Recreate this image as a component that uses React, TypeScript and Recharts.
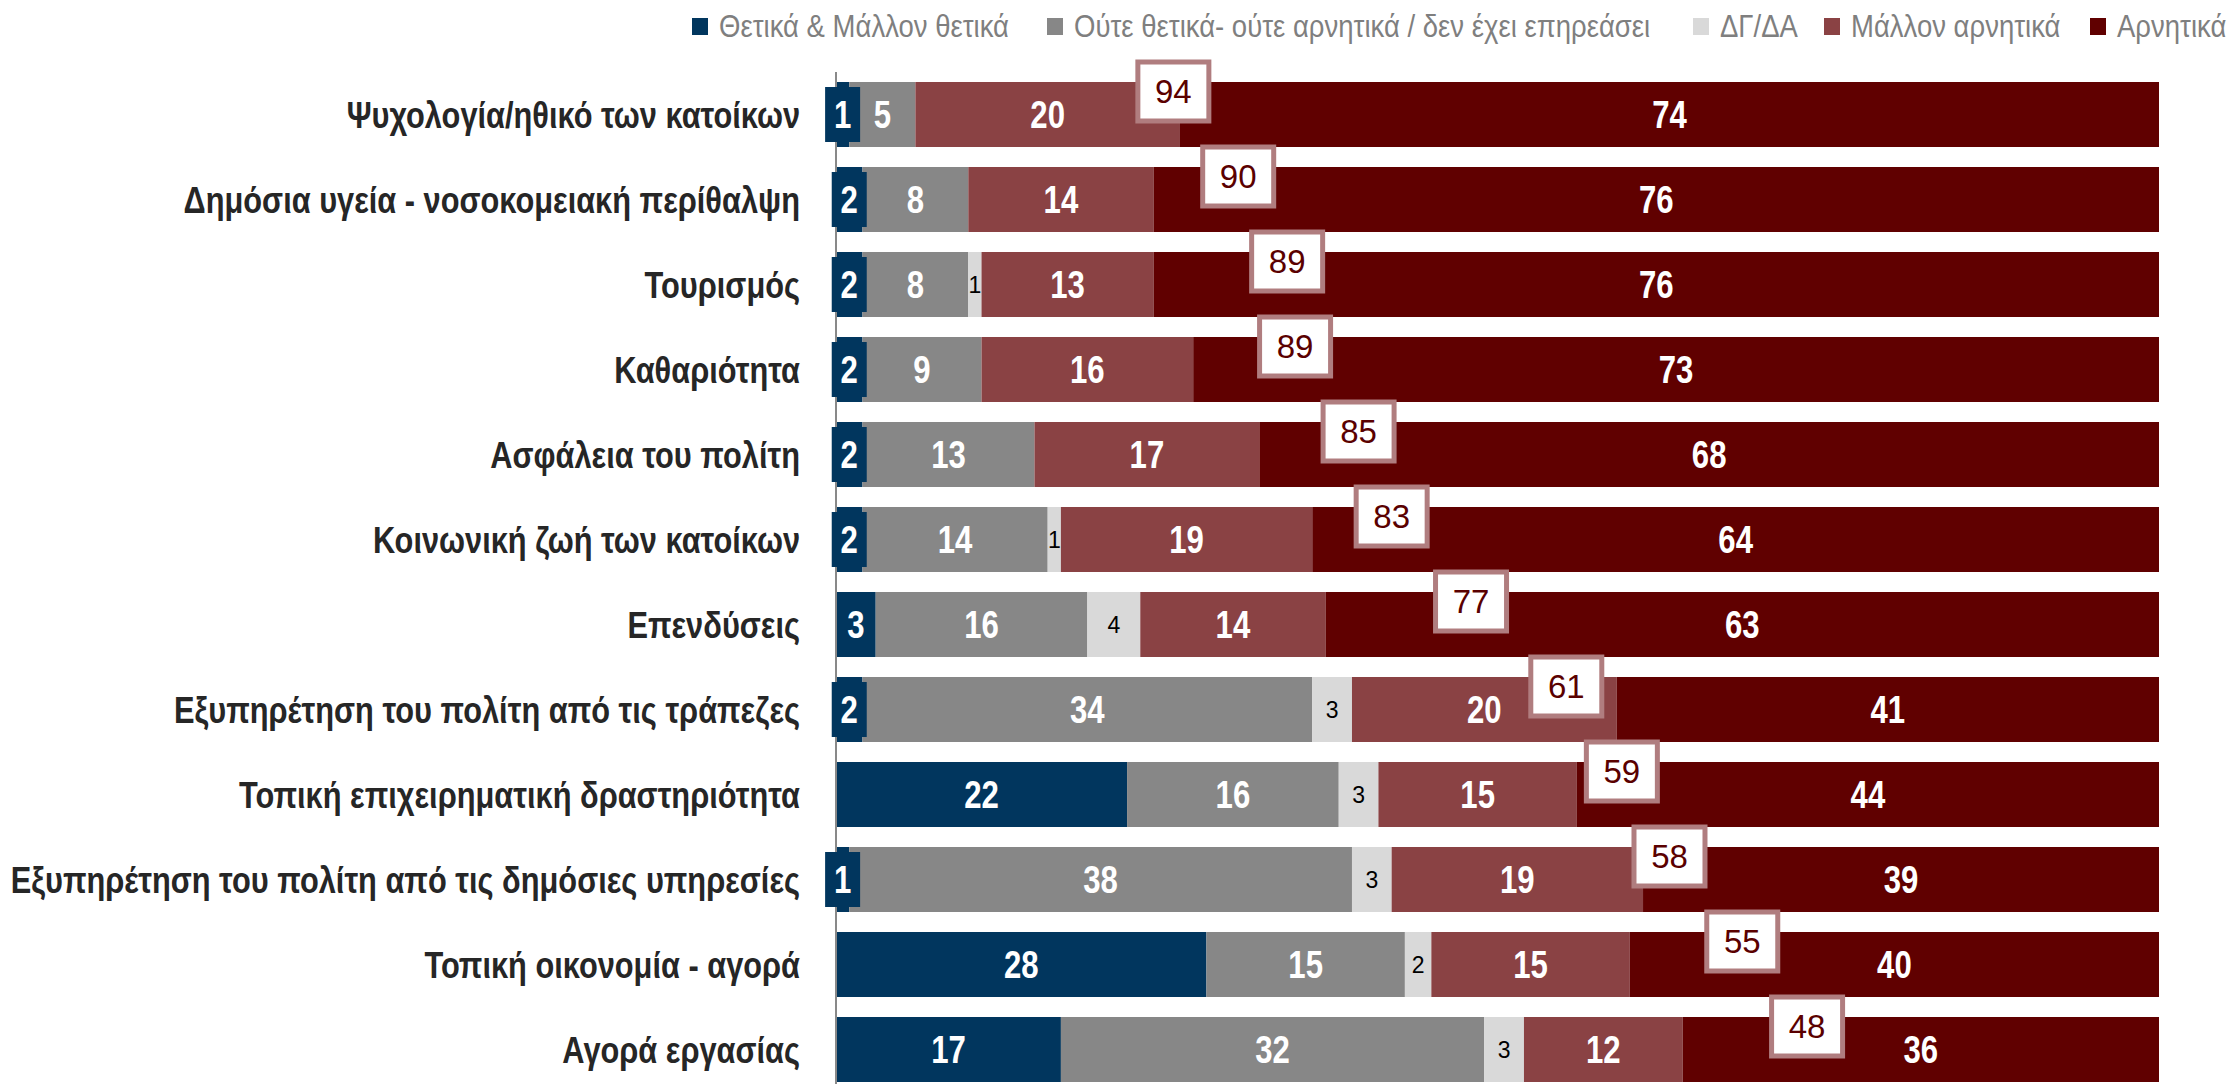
import React from 'react';
import { ComposedChart, Bar, Line, XAxis, YAxis, LabelList } from 'recharts';

// categories, top to bottom
const categories = [
  'Ψυχολογία/ηθικό των κατοίκων',
  'Δημόσια υγεία - νοσοκομειακή περίθαλψη',
  'Τουρισμός',
  'Καθαριότητα',
  'Ασφάλεια του πολίτη',
  'Κοινωνική ζωή των κατοίκων',
  'Επενδύσεις',
  'Εξυπηρέτηση του πολίτη από τις τράπεζες',
  'Τοπική επιχειρηματική δραστηριότητα',
  'Εξυπηρέτηση του πολίτη από τις δημόσιες υπηρεσίες',
  'Τοπική οικονομία - αγορά',
  'Αγορά εργασίας',
];

const positive = [1, 2, 2, 2, 2, 2, 3, 2, 22, 1, 28, 17];
const neutral = [5, 8, 8, 9, 13, 14, 16, 34, 16, 38, 15, 32];
const dkna = [0, 0, 1, 0, 0, 1, 4, 3, 3, 3, 2, 3];
const ratherNegative = [20, 14, 13, 16, 17, 19, 14, 20, 15, 19, 15, 12];
const negative = [74, 76, 76, 73, 68, 64, 63, 41, 44, 39, 40, 36];
// where the "total negative" box sits on the 0-100 axis
const totalBoxAt = [25.5, 30.4, 34.1, 34.7, 39.5, 42, 48, 55.2, 59.4, 63, 68.5, 73.4];

const seriesNames = [
  'Θετικά & Μάλλον θετικά',
  'Ούτε θετικά- ούτε αρνητικά / δεν έχει επηρεάσει',
  'ΔΓ/ΔΑ',
  'Μάλλον αρνητικά',
  'Αρνητικά',
];
const COLORS = ['#01365e', '#878787', '#d9d9d9', '#8a4244', '#600000'];

const data = categories.map((name, i) => ({
  name,
  pos: positive[i],
  neu: neutral[i],
  dk: dkna[i],
  rneg: ratherNegative[i],
  neg: negative[i],
  total: ratherNegative[i] + negative[i],
  boxAt: totalBoxAt[i],
}));

const FONT = "'Liberation Sans', Arial, sans-serif";
const NARROW = 0.82; // no Arial Narrow here, squeeze Arial instead

const geom = (p: any) => {
  const vb = p.viewBox || {};
  return {
    x: p.x ?? vb.x,
    y: p.y ?? vb.y,
    w: p.width ?? vb.width,
    h: p.height ?? vb.height,
  };
};

const NarrowText = ({ x, y, anchor = 'middle', size, bold, fill, squeeze = NARROW, children }: any) => (
  <g transform={`translate(${x},${y}) scale(${squeeze},1)`}>
    <text x={0} y={0} textAnchor={anchor} dominantBaseline="central"
      fill={fill} fontSize={size} fontWeight={bold ? 'bold' : 'normal'} fontFamily={FONT}>
      {children}
    </text>
  </g>
);

const WhiteLabel = (p: any) => {
  const { x, y, w, h } = geom(p);
  return <NarrowText x={x + w / 2} y={y + h / 2} size={38} bold fill="#fff">{p.value}</NarrowText>;
};

const PositiveLabel = (p: any) => {
  const { x, y, w, h } = geom(p);
  const cx = x + w / 2;
  return (
    <g>
      {w < 32 && <rect x={cx - 17.5} y={y + 5} width={35} height={h - 10} fill={COLORS[0]} />}
      <NarrowText x={cx} y={y + h / 2} size={38} bold fill="#fff">{p.value}</NarrowText>
    </g>
  );
};

const SmallLabel = (p: any) => {
  const { x, y, w, h } = geom(p);
  return (
    <text x={x + w / 2} y={y + h / 2} textAnchor="middle" dominantBaseline="central"
      fill="#000" fontSize={23} fontFamily={FONT}>
      {p.value}
    </text>
  );
};

const TotalBox = (p: any) => {
  const { cx, cy, payload, index } = p;
  if (cx == null || cy == null) return <g key={`b-${index}`} />;
  const top = cy - 23;
  return (
    <g key={`b-${index}`}>
      <rect x={cx - 35.5} y={top - 29.5} width={71} height={59} fill="#fff" stroke="#b07d7f" strokeWidth={5} />
      <text x={cx} y={top} textAnchor="middle" dominantBaseline="central"
        fill="#5a0000" fontSize={33} fontFamily={FONT}>
        {payload.total}
      </text>
    </g>
  );
};

const CategoryTick = (p: any) => (
  <NarrowText x={p.x} y={p.y} anchor="end" size={37} bold squeeze={0.832} fill="#262626">
    {p.payload.value}
  </NarrowText>
);

// legend item placement, taken from the reference layout
const legendSwatchX = [692, 1047, 1693, 1824, 2090];

const ChartLegend = () => (
  <svg style={{ position: 'absolute', left: 0, top: 0 }} width={2237} height={50}>
    {seriesNames.map((s, i) => (
      <g key={s}>
        <rect x={legendSwatchX[i]} y={18} width={16} height={17} fill={COLORS[i]} />
        <NarrowText x={legendSwatchX[i] + 27} y={26} anchor="start" size={32} squeeze={0.86} fill="#7f7f7f">
          {s}
        </NarrowText>
      </g>
    ))}
  </svg>
);

export default function App() {
  return (
    <div style={{ position: 'absolute', left: 0, top: 0, width: 2237, height: 1084, overflow: 'hidden', background: '#fff' }}>
      <ChartLegend />
      <ComposedChart
        width={2237}
        height={1092}
        data={data}
        layout="vertical"
        margin={{ top: 72, right: 78, bottom: 0, left: 0 }}
      >
        <XAxis type="number" domain={[0, 100]} hide />
        <YAxis
          type="category"
          dataKey="name"
          width={836}
          tickLine={false}
          tickSize={0}
          tickMargin={36}
          axisLine={{ stroke: '#898989', strokeWidth: 2 }}
          tick={<CategoryTick />}
          interval={0}
        />
        <Bar dataKey="pos" stackId="a" fill={COLORS[0]} barSize={65} isAnimationActive={false}>
          <LabelList dataKey="pos" content={<PositiveLabel />} />
        </Bar>
        <Bar dataKey="neu" stackId="a" fill={COLORS[1]} barSize={65} isAnimationActive={false}>
          <LabelList dataKey="neu" content={<WhiteLabel />} />
        </Bar>
        <Bar dataKey="dk" stackId="a" fill={COLORS[2]} barSize={65} isAnimationActive={false}>
          <LabelList dataKey="dk" content={<SmallLabel />} />
        </Bar>
        <Bar dataKey="rneg" stackId="a" fill={COLORS[3]} barSize={65} isAnimationActive={false}>
          <LabelList dataKey="rneg" content={<WhiteLabel />} />
        </Bar>
        <Bar dataKey="neg" stackId="a" fill={COLORS[4]} barSize={65} isAnimationActive={false}>
          <LabelList dataKey="neg" content={<WhiteLabel />} />
        </Bar>
        <Line
          dataKey="boxAt"
          stroke="none"
          dot={TotalBox}
          activeDot={false}
          legendType="none"
          isAnimationActive={false}
        />
      </ComposedChart>
    </div>
  );
}
